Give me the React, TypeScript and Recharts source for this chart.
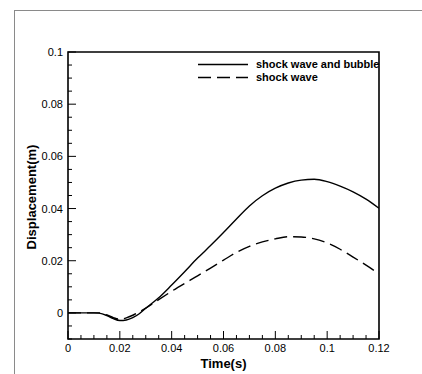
import { LineChart, Line, XAxis, YAxis, ReferenceArea, Label } from 'recharts';

// time (s)
const time = [
  0, 0.005, 0.01, 0.012, 0.015, 0.0175, 0.02, 0.0225, 0.025, 0.0275, 0.03, 0.035, 0.04, 0.045, 0.05,
  0.055, 0.06, 0.065, 0.07, 0.075, 0.08, 0.085, 0.09, 0.095, 0.1, 0.105, 0.11, 0.115, 0.12,
];
// displacement (m) - shock wave and bubble
const waveAndBubble = [
  0, 0, 0, -0.0001, -0.001, -0.0022, -0.0029, -0.0027, -0.0018, -0.0003, 0.0018, 0.0058, 0.0107,
  0.0158, 0.021, 0.0258, 0.0308, 0.036, 0.041, 0.0449, 0.0478, 0.0498, 0.0509, 0.0512, 0.0503,
  0.0486, 0.0464, 0.0436, 0.0401,
];
// displacement (m) - shock wave only
const waveOnly = [
  0, 0, 0, 0, -0.0008, -0.0018, -0.0024, -0.0019, -0.0009, 0.0004, 0.0018, 0.0051, 0.0083, 0.0113,
  0.0142, 0.0172, 0.0202, 0.0232, 0.0255, 0.0272, 0.0284, 0.0292, 0.0291, 0.0284, 0.0268, 0.0244,
  0.0214, 0.0183, 0.015,
];

const xMajor = [0, 0.02, 0.04, 0.06, 0.08, 0.1, 0.12];
const xMinor = [
  0.005, 0.01, 0.015, 0.025, 0.03, 0.035, 0.045, 0.05, 0.055, 0.065, 0.07, 0.075, 0.085, 0.09, 0.095,
  0.105, 0.11, 0.115,
];
const yMajor = [0, 0.02, 0.04, 0.06, 0.08, 0.1];
const yMinor = [
  -0.01, -0.005, 0.005, 0.01, 0.015, 0.025, 0.03, 0.035, 0.045, 0.05, 0.055, 0.065, 0.07, 0.075,
  0.085, 0.09, 0.095,
];

const series = [
  { key: 'bubble', name: 'shock wave and bubble', dash: undefined as string | undefined },
  { key: 'wave', name: 'shock wave', dash: '13 6' },
];

const data = time.map((t, i) => ({ t, bubble: waveAndBubble[i], wave: waveOnly[i] }));

const FONT = '"Liberation Sans", Arial, sans-serif';

const isMajor = (v: number, list: number[]) => list.some((m) => Math.abs(m - v) < 1e-9);
const fmt = (v: number) => String(Number(v.toFixed(3)));

const XTick = (props: any) => {
  const { x, y, payload } = props;
  const major = isMajor(payload.value, xMajor);
  return (
    <g>
      <line x1={x} x2={x} y1={y} y2={y - (major ? 8 : 4)} stroke="#000" strokeWidth={1} />
      {major && (
        <text x={x} y={y + 13} textAnchor="middle" fontSize={11} fontFamily={FONT} fill="#000">
          {fmt(payload.value)}
        </text>
      )}
    </g>
  );
};

const YTick = (props: any) => {
  const { x, y, payload } = props;
  const major = isMajor(payload.value, yMajor);
  return (
    <g>
      <line x1={x} x2={x + (major ? 8 : 4)} y1={y} y2={y} stroke="#000" strokeWidth={1} />
      {major && (
        <text x={x - 5} y={y + 4} textAnchor="end" fontSize={11} fontFamily={FONT} fill="#000">
          {fmt(payload.value)}
        </text>
      )}
    </g>
  );
};

const LegendBox = () => (
  <div
    style={{
      position: 'absolute',
      left: 196,
      top: 58,
      fontFamily: FONT,
      fontSize: 11,
      fontWeight: 'bold',
      lineHeight: '13px',
    }}
  >
    {series.map((s) => (
      <div key={s.key} style={{ display: 'flex', alignItems: 'center', height: 13 }}>
        <svg width={60} height={13}>
          <line x1={2} x2={52} y1={6.5} y2={6.5} stroke="#000" strokeWidth={1.4} strokeDasharray={s.dash} />
        </svg>
        <span>{s.name}</span>
      </div>
    ))}
  </div>
);

export default function App() {
  return (
    <div style={{ position: 'absolute', left: 0, top: 0, width: 422, height: 374, background: '#fff' }}>
      <div
        style={{
          position: 'absolute',
          left: 14,
          top: 10,
          width: 420,
          height: 380,
          borderTop: '1px solid #8a8a8a',
          borderLeft: '1px solid #8a8a8a',
        }}
      />
      <LineChart
        width={422}
        height={374}
        data={data}
        margin={{ top: 52, right: 43, bottom: 0, left: 20 }}
        style={{ position: 'absolute', left: 0, top: 0 }}
      >
        <XAxis
          dataKey="t"
          type="number"
          domain={[0, 0.12]}
          ticks={[...xMajor, ...xMinor].sort((a, b) => a - b)}
          interval={0}
          tickLine={false}
          axisLine={false}
          tickSize={0}
          tickMargin={0}
          tick={<XTick />}
          height={35}
          allowDataOverflow
        >
          <Label
            content={(p: any) => (
              <text
                x={p.viewBox.x + p.viewBox.width / 2}
                y={p.viewBox.y + 29}
                textAnchor="middle"
                fontSize={13}
                fontWeight="bold"
                fontFamily={FONT}
              >
                Time(s)
              </text>
            )}
          />
        </XAxis>
        <YAxis
          type="number"
          domain={[-0.01, 0.1]}
          ticks={[...yMajor, ...yMinor].sort((a, b) => a - b)}
          interval={0}
          tickLine={false}
          axisLine={false}
          tickSize={0}
          tickMargin={0}
          tick={<YTick />}
          width={48}
          allowDataOverflow
        >
          <Label
            content={() => (
              <text
                x={31}
                y={197}
                transform="rotate(-90 31 197)"
                textAnchor="middle"
                dominantBaseline="central"
                fontSize={13}
                fontWeight="bold"
                fontFamily={FONT}
              >
                Displacement(m)
              </text>
            )}
          />
        </YAxis>
        <ReferenceArea x1={0} x2={0.12} y1={-0.01} y2={0.1} fill="none" stroke="#000" strokeWidth={1.6} />
        {series.map((s) => (
          <Line
            key={s.key}
            dataKey={s.key}
            name={s.name}
            type="monotone"
            stroke="#000"
            strokeWidth={1.4}
            strokeDasharray={s.dash}
            dot={false}
            activeDot={false}
            isAnimationActive={false}
          />
        ))}
      </LineChart>
      <LegendBox />
    </div>
  );
}
